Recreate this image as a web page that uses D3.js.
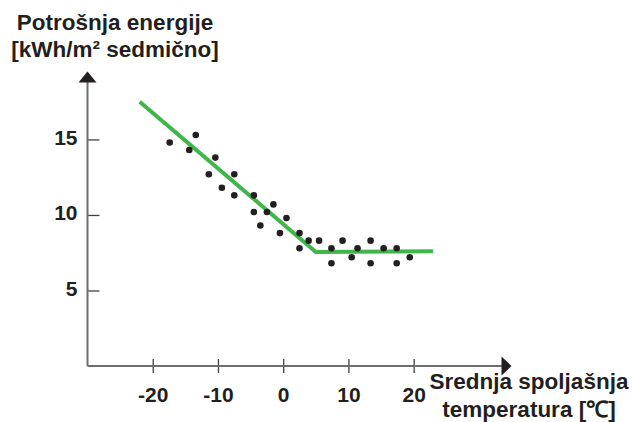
<!DOCTYPE html>
<html>
<head>
<meta charset="utf-8">
<script src="https://cdn.jsdelivr.net/npm/d3@7"></script>
<style>
  html, body { margin: 0; padding: 0; background: #fff; }
  svg { display: block; }
  text { font-family: "Liberation Sans", Arial, Helvetica, sans-serif; font-weight: bold; fill: #231f20; }
</style>
</head>
<body>
<script>
// Weekly energy use against mean outdoor temperature
const tempData   = [-17.4, -14.4, -13.4, -10.4, -11.4, -7.5, -9.4, -7.5, -4.5, -4.5, -2.5, -1.5, -3.5, 0.5, -0.5, 2.5, 2.5, 3.9, 5.5, 7.4, 7.4, 9.1, 10.5, 11.4, 13.4, 13.4, 15.4, 17.4, 17.4, 19.4];
const energyData = [14.8, 14.3, 15.3, 13.8, 12.7, 12.7, 11.8, 11.3, 11.3, 10.2, 10.2, 10.7, 9.3, 9.8, 8.8, 8.8, 7.8, 8.3, 8.3, 7.8, 6.8, 8.3, 7.2, 7.8, 8.3, 6.8, 7.8, 7.8, 6.8, 7.2];

// Piecewise-linear fit: heating slope, then base load
const fitTemp   = [-22, 5, 23];
const fitEnergy = [17.5, 7.55, 7.6];

const xTicks = [-20, -10, 0, 10, 20];
const yTicks = [5, 10, 15];

const yTitle = ["Potrošnja energije", "[kWh/m² sedmično]"];
const xTitle = ["Srednja spoljašnja", "temperatura [℃]"];

const W = 632, H = 422;
const svg = d3.select("body").append("svg").attr("width", W).attr("height", H);

const x = d3.scaleLinear().domain([-30, 35]).range([87.5, 511.5]);
const y = d3.scaleLinear().domain([0, 19.5]).range([366, 71.5]);

const axisColor = "#6d6e71";
const inkColor = "#231f20";

// X axis
const gx = svg.append("g").attr("transform", `translate(0,${y(0)})`)
  .call(d3.axisBottom(x).tickValues(xTicks).tickSize(7).tickFormat(d => String(d)));
gx.select(".domain").remove();
gx.selectAll(".tick line").attr("y1", -7).attr("y2", 7).attr("stroke", "#414042").attr("stroke-width", 1.3);
gx.selectAll(".tick text").attr("y", 36).attr("dy", null).attr("font-size", 21)
  .attr("font-family", null).style("fill", inkColor);

// Y axis
const gy = svg.append("g").attr("transform", `translate(${x(-30)},0)`)
  .call(d3.axisRight(y).tickValues(yTicks).tickSize(12).tickFormat(d => String(d)));
gy.select(".domain").remove();
gy.selectAll(".tick line").attr("stroke", "#414042").attr("stroke-width", 1.3);
gy.selectAll(".tick text").attr("x", -10).attr("dy", 5).attr("text-anchor", "end")
  .attr("font-size", 21).attr("font-family", null).style("fill", inkColor);

// Axis lines with arrowheads
const x0 = x(-30), y0 = y(0);
svg.append("line").attr("x1", x0).attr("x2", x0).attr("y1", y0).attr("y2", y(19.5) + 8)
  .attr("stroke", axisColor).attr("stroke-width", 2);
svg.append("line").attr("x1", x0).attr("x2", x(35) - 8).attr("y1", y0).attr("y2", y0)
  .attr("stroke", axisColor).attr("stroke-width", 2);
svg.append("path")
  .attr("d", `M${x0},${y(19.5)} L${x0 + 9},${y(19.5) + 11} L${x0 - 9},${y(19.5) + 11} Z`)
  .attr("fill", inkColor);
svg.append("path")
  .attr("d", `M${x(35)},${y0} L${x(35) - 10},${y0 - 9.5} L${x(35) - 10},${y0 + 9.5} Z`)
  .attr("fill", inkColor);

// Fit line
const fit = fitTemp.map((t, i) => [t, fitEnergy[i]]);
svg.append("path").datum(fit)
  .attr("d", d3.line().x(d => x(d[0])).y(d => y(d[1])))
  .attr("fill", "none").attr("stroke", "#3fb54a").attr("stroke-width", 4)
  .attr("stroke-linejoin", "miter");

// Measured points
const pts = tempData.map((t, i) => [t, energyData[i]]);
svg.append("g").selectAll("circle").data(pts).join("circle")
  .attr("cx", d => x(d[0])).attr("cy", d => y(d[1])).attr("r", 3.3)
  .attr("fill", inkColor);

// Axis titles
svg.append("text").attr("x", 115).attr("y", 29.5).attr("text-anchor", "middle")
  .attr("font-size", 22.5)
  .selectAll("tspan").data(yTitle).join("tspan")
  .attr("x", 115).attr("dy", (d, i) => i ? 27 : 0).text(d => d);

svg.append("text").attr("x", 529).attr("y", 389).attr("text-anchor", "middle")
  .attr("font-size", 22.5)
  .selectAll("tspan").data(xTitle).join("tspan")
  .attr("x", 529).attr("dy", (d, i) => i ? 28 : 0).text(d => d);
</script>
</body>
</html>
